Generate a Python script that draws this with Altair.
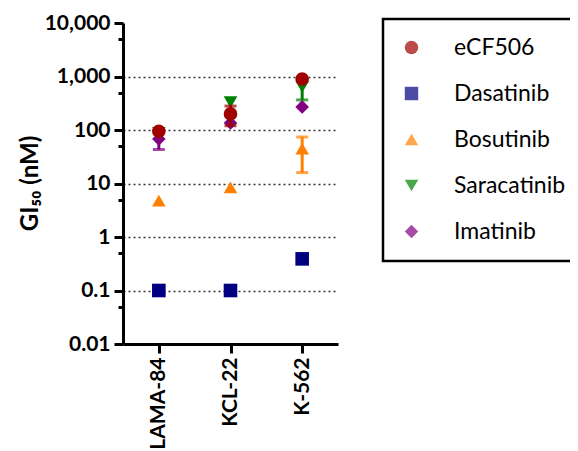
import altair as alt
import pandas as pd

cells = ["LAMA-84", "KCL-22", "K-562"]
series = ["eCF506", "Dasatinib", "Bosutinib", "Saracatinib", "Imatinib"]
colors = ["#A00000", "#000080", "#FF8000", "#008000", "#800080"]
shapes = ["circle", "square", "triangle-up", "triangle-down", "diamond"]

# GI50 values (nM) per cell line
ecf506 = [95, 200, 900]
dasatinib = [0.1, 0.1, 0.39]
bosutinib = [4.8, 8.5, 45]
saracatinib = [88, 330, 640]
imatinib = [68, 135, 270]

# error bar ends (None = no error bar)
ecf506_lo = [None, 120, None]
ecf506_hi = [None, 280, None]
bosutinib_lo = [None, None, 16]
bosutinib_hi = [None, None, 74]
saracatinib_lo = [None, None, 365]
saracatinib_hi = [None, None, 915]
imatinib_lo = [43, None, None]
imatinib_hi = [93, None, None]

values = {"eCF506": ecf506, "Dasatinib": dasatinib, "Bosutinib": bosutinib,
          "Saracatinib": saracatinib, "Imatinib": imatinib}
errs = {"eCF506": (ecf506_lo, ecf506_hi), "Bosutinib": (bosutinib_lo, bosutinib_hi),
        "Saracatinib": (saracatinib_lo, saracatinib_hi), "Imatinib": (imatinib_lo, imatinib_hi)}
color_of = dict(zip(series, colors))

draw_order = ["Imatinib", "Saracatinib", "Bosutinib", "Dasatinib", "eCF506"]
rows = []
for s in draw_order:
    for c, v in zip(cells, values[s]):
        rows.append({"series": s, "cell": c, "value": v})
pts = pd.DataFrame(rows)

erows = []
for s in draw_order:
    if s in errs:
        lo, hi = errs[s]
        for c, a, b in zip(cells, lo, hi):
            if a is not None:
                erows.append({"series": s, "cell": c, "lo": a, "hi": b, "col": color_of[s]})
err = pd.DataFrame(erows)

major = "abs(log(datum.value)/LN10 - round(log(datum.value)/LN10)) < 0.001"

y_axis = alt.Axis(
    title="GI₅₀ (nM)",
    values=[0.01, 0.05, 0.1, 0.5, 1, 5, 10, 50, 100, 500, 1000, 5000, 10000],
    labelExpr=f"({major}) ? format(datum.value, ',') : ''",
    labelFont="Lato", labelFontSize=21, labelFontWeight="bold", labelColor="black",
    labelPadding=4, labelOverlap=False,
    tickSize={"condition": {"test": major, "value": 9}, "value": 5},
    tickWidth=3, tickColor="black",
    domainWidth=3, domainColor="black",
    grid=True, gridDash=[2, 3], gridColor="#333333", gridWidth=1.5,
    gridOpacity={"condition": {"test": f"({major}) && datum.value > 0.05 && datum.value < 5000", "value": 1}, "value": 0},
    titleFont="Lato", titleFontSize=24, titleFontWeight="bold", titleColor="black",
    titleX=-93, titleY=160, titleAngle=270, titleAlign="center", titleBaseline="middle",
)
y_scale = alt.Scale(type="log", domain=[0.01, 10000], nice=False)

x_axis = alt.Axis(
    title=None, labelAngle=-90, labelFont="Lato", labelFontSize=21, labelFontWeight="bold",
    labelColor="black", labelPadding=4, tickSize=9, tickWidth=3, tickColor="black",
    domainWidth=3, domainColor="black", grid=False,
)
x_enc = alt.X("cell:N", scale=alt.Scale(type="point", domain=cells, padding=0.5), sort=cells, axis=x_axis)

pad = "\u2800" * 40
legend = alt.Legend(
    title=None, orient="none", legendX=260, legendY=-4,
    strokeColor="black", fillColor="white", padding=17,
    rowPadding=22, symbolSize=180, symbolStrokeWidth=0, symbolOpacity=1,
    labelFont="Lato", labelFontSize=23, labelColor="black", labelOffset=31,
    labelLimit=800,
    labelExpr=f"datum.label + '{pad}'",
)
color_enc = alt.Color("series:N", scale=alt.Scale(domain=series, range=colors), legend=legend)
shape_enc = alt.Shape("series:N", scale=alt.Scale(domain=series, range=shapes), legend=legend)


def err_layers(data):
    base = alt.Chart(data)
    rule = base.mark_rule(strokeWidth=3).encode(
        x=x_enc,
        y=alt.Y("lo:Q", scale=y_scale, axis=y_axis),
        y2="hi:Q",
        color=alt.Color("col:N", scale=None),
    )
    cap_lo = base.mark_tick(orient="horizontal", size=12, thickness=3).encode(
        x=x_enc, y=alt.Y("lo:Q", scale=y_scale, axis=y_axis),
        color=alt.Color("col:N", scale=None),
    )
    cap_hi = base.mark_tick(orient="horizontal", size=12, thickness=3).encode(
        x=x_enc, y=alt.Y("hi:Q", scale=y_scale, axis=y_axis),
        color=alt.Color("col:N", scale=None),
    )
    return [rule, cap_lo, cap_hi]


def pt_layer(data):
    return alt.Chart(data).mark_point(filled=True, size=185, opacity=1).encode(
        x=x_enc,
        y=alt.Y("value:Q", scale=y_scale, axis=y_axis),
        color=color_enc,
        shape=shape_enc,
    )


err_other = err[err["series"] != "eCF506"]
err_ecf = err[err["series"] == "eCF506"]
pts_other = pts[pts["series"] != "eCF506"]
pts_ecf = pts[pts["series"] == "eCF506"]

layers = err_layers(err_other) + [pt_layer(pts_other)] + err_layers(err_ecf) + [pt_layer(pts_ecf)]

chart = alt.layer(*layers).properties(
    width=215, height=321,
    autosize=alt.AutoSizeParams(type="none"),
    padding={"left": 115, "top": 15, "right": 232, "bottom": 107},
).configure(font="Lato", background="white").configure_view(
    strokeWidth=0
).configure_legend(strokeWidth=2.5)

chart.save("out.html", embed_options={"renderer": "svg", "actions": False})
